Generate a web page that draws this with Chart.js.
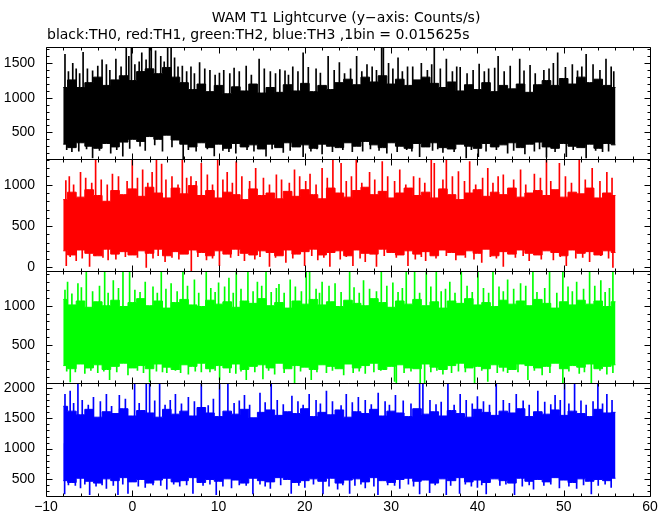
<!DOCTYPE html>
<html>
<head>
<meta charset="utf-8">
<script src="https://cdn.jsdelivr.net/npm/chart.js@4.4.1/dist/chart.umd.min.js"></script>
<style>
  html, body { margin: 0; padding: 0; background: #fff; }
</style>
</head>
<body>
<canvas id="lc" width="672" height="515"></canvas>
<script>
// WAM T1 lightcurve, 4 energy bands stacked
const tStart = -8; // envelope samples every 1 s from -8 to 56
const xTicks = [-10, 0, 10, 20, 30, 40, 50, 60];

// TH0 (black): dense band top/bottom, plus single needles [t, value]
const th0Hi = [1150, 1260, 1150, 1220, 1300, 1180, 1260, 1320, 1250, 1380, 1420, 1350, 1440, 1300, 1220, 1120, 1200,
  1090, 1180, 1060, 1160, 1100, 1200, 1070, 1150, 1080, 1190, 1100, 1210, 1090, 1180, 1120, 1220, 1270, 1190, 1300,
  1230, 1320, 1200, 1270, 1180, 1260, 1300, 1210, 1150, 1230, 1100, 1190, 1120, 1220, 1090, 1180, 1130, 1200, 1080,
  1190, 1250, 1180, 1280, 1200, 1300, 1220, 1270, 1180, 1150];
const th0Lo = [330, 280, 350, 300, 270, 340, 290, 360, 400, 370, 440, 400, 460, 390, 330, 290, 350, 280, 330, 270, 340,
  290, 320, 260, 330, 280, 350, 290, 320, 270, 330, 300, 280, 350, 300, 370, 320, 280, 350, 300, 270, 340, 290, 350,
  280, 260, 330, 300, 270, 340, 290, 320, 350, 280, 330, 360, 290, 270, 340, 300, 280, 330, 270, 340, 320];
const th0Up = [[-7.8, 1630], [-6.5, 1420], [-5.7, 1660], [-4.0, 1460], [-3.0, 1480], [-1.9, 1560], [-0.7, 1736],
  [-0.1, 1736], [0.8, 1520], [2.0, 1736], [2.2, 1736], [3.3, 1600], [4.1, 1736], [4.5, 1736], [5.8, 1460],
  [6.8, 1450], [7.8, 1510], [9.0, 1400], [10.1, 1360], [11.8, 1430], [13.2, 1460], [14.7, 1560], [16.0, 1380],
  [17.1, 1410], [18.6, 1450], [19.8, 1650], [21.3, 1420], [22.7, 1600], [24.0, 1510], [26.0, 1600], [27.2, 1480],
  [28.9, 1736], [29.1, 1736], [30.8, 1580], [31.9, 1450], [33.5, 1500], [35.0, 1736], [36.4, 1560], [38.0, 1440],
  [40.2, 1490], [41.3, 1420], [42.4, 1600], [44.9, 1560], [46.1, 1470], [47.7, 1400], [49.3, 1650], [51.0, 1480],
  [52.6, 1630], [54.9, 1560], [55.5, 1450],
  [-7.4, 1380], [-6.9, 1500], [-6.1, 1350], [-5.2, 1420], [-4.6, 1390], [-3.5, 1550], [-2.6, 1400], [-1.3, 1450],
  [-0.4, 1600], [0.3, 1480], [1.1, 1650], [1.6, 1550], [2.7, 1680], [3.7, 1520], [4.9, 1580], [5.3, 1450],
  [6.3, 1380], [7.2, 1350], [8.4, 1420], [9.6, 1330], [10.6, 1400], [11.3, 1350], [12.4, 1380], [13.8, 1330],
  [15.3, 1420], [16.6, 1350], [17.7, 1390], [18.1, 1330], [19.2, 1380], [20.4, 1440], [21.8, 1360], [23.4, 1400],
  [24.6, 1350], [25.3, 1420], [26.6, 1380], [27.8, 1450], [28.3, 1400], [29.7, 1500], [30.2, 1420], [31.3, 1380],
  [32.5, 1450], [34.2, 1400], [34.7, 1480], [35.7, 1420], [37.1, 1380], [37.6, 1450], [38.8, 1350], [39.5, 1400],
  [40.8, 1380], [42.0, 1430], [43.1, 1380], [43.8, 1460], [45.4, 1390], [46.7, 1350], [48.3, 1420], [48.8, 1500],
  [50.2, 1440], [51.6, 1390], [52.1, 1450], [53.4, 1480], [54.2, 1400], [55.8, 1380]];
const th0Down = [[-7.0, 220], [-4.6, 132], [-2.5, 200], [-1.1, 156], [1.5, 240], [3.5, 230], [5.9, 113], [9.5, 160],
  [12.0, 200], [15.5, 156], [17.5, 210], [19.8, 150], [22.0, 190], [25.5, 220], [29.5, 200], [33.3, 150],
  [36.0, 210], [38.7, 130], [40.1, 150], [43.5, 200], [45.5, 190], [48.0, 140], [50.3, 150], [52.6, 130], [54.5, 220],
  [-7.6, 250], [-6.2, 230], [-5.3, 260], [-3.8, 240], [-1.8, 250], [-0.3, 270], [0.9, 300], [2.6, 320], [4.6, 290],
  [6.5, 250], [7.4, 230], [8.7, 260], [10.5, 240], [11.2, 220], [13.3, 250], [14.1, 230], [16.2, 260], [18.3, 240],
  [20.7, 230], [21.4, 260], [23.2, 220], [24.4, 250], [26.7, 230], [27.6, 260], [28.6, 240], [30.7, 220],
  [31.8, 250], [32.4, 230], [34.8, 240], [35.4, 260], [37.3, 220], [39.3, 250], [41.0, 230], [42.2, 250],
  [44.2, 240], [46.6, 230], [47.2, 260], [49.0, 220], [51.1, 250], [53.7, 240], [55.2, 230]];

// TH1 (red)
const th1Hi = [820, 910, 850, 940, 870, 800, 930, 880, 950, 860, 970, 900, 840, 960, 890, 990, 870, 930, 840, 910,
  880, 820, 950, 870, 900, 830, 920, 860, 940, 880, 830, 960, 900, 850, 930, 970, 880, 920, 840, 900, 960, 870, 910,
  840, 950, 880, 820, 900, 940, 860, 910, 880, 960, 850, 900, 930, 870, 940, 850, 910, 890, 960, 840, 900, 870];
const th1Lo = [200, 150, 210, 170, 140, 220, 160, 190, 150, 200, 170, 220, 140, 190, 160, 210, 180, 140, 200, 160,
  220, 170, 150, 200, 180, 140, 210, 160, 190, 220, 150, 180, 200, 140, 210, 170, 160, 220, 180, 150, 200, 160, 190,
  140, 210, 180, 150, 200, 170, 220, 140, 190, 160, 210, 170, 150, 200, 180, 140, 210, 170, 190, 150, 200, 180];
const th1Up = [[-7.3, 1100], [-6.0, 1150], [-4.25, 1310], [-2.3, 1130], [0.0, 1310], [1.2, 1180], [2.8, 1310],
  [3.4, 1250], [5.8, 1310], [6.8, 1100], [8.0, 1260], [9.9, 1310], [11.0, 1150], [12.05, 1280], [14.3, 1200],
  [16.7, 1120], [18.8, 1180], [20.6, 1130], [22.0, 1200], [23.25, 1310], [24.2, 1260], [25.96, 1310], [27.5, 1150],
  [28.97, 1280], [31.0, 1180], [32.6, 1100], [34.65, 1310], [35.0, 1260], [36.4, 1310], [37.8, 1160], [39.1, 1280],
  [41.2, 1200], [43.0, 1120], [45.0, 1180], [46.6, 1130], [48.0, 1310], [49.5, 1260], [51.8, 1310], [53.3, 1200],
  [55.0, 1150],
  [-7.7, 1050], [-6.8, 1000], [-5.4, 1080], [-4.7, 1020], [-3.6, 1060], [-2.9, 1000], [-1.6, 1100], [-0.6, 1040],
  [0.6, 1080], [1.8, 1020], [2.3, 1150], [3.9, 1060], [4.6, 1100], [5.3, 1000], [6.3, 1080], [7.4, 1040],
  [8.7, 1120], [9.3, 1000], [10.5, 1060], [11.6, 1020], [12.7, 1100], [13.6, 1040], [15.2, 1080], [15.9, 1000],
  [17.3, 1060], [18.2, 1020], [19.4, 1100], [20.1, 1040], [21.3, 1000], [22.6, 1080], [24.8, 1040], [25.4, 1100],
  [26.6, 1020], [28.1, 1060], [29.6, 1100], [30.4, 1040], [31.7, 1000], [33.3, 1080], [33.9, 1020], [36.0, 1060],
  [37.1, 1100], [38.5, 1040], [39.8, 1000], [40.6, 1080], [41.8, 1020], [42.4, 1100], [44.2, 1060], [45.6, 1000],
  [47.3, 1080], [48.5, 1040], [50.2, 1100], [50.9, 1020], [52.5, 1060], [54.2, 1040], [55.6, 1080]];
const th1Down = [[-7.65, 20], [-6.5, 80], [-4.95, 10], [-2.8, 90], [1.62, 0], [3.8, 70], [6.84, -40], [8.6, 90],
  [10.1, 20], [13.0, 80], [15.9, 10], [17.8, 60], [19.97, 20], [21.5, 90], [22.9, 10], [25.57, 20], [27.0, 70],
  [28.3, 10], [31.95, 20], [34.0, 80], [37.5, 90], [40.5, 60], [43.0, 10], [46.0, 80], [48.8, 90], [50.3, 20],
  [53.0, 70], [55.7, 0],
  [-7.2, 130], [-5.8, 110], [-4.3, 140], [-3.4, 120], [-1.9, 100], [-0.8, 130], [0.6, 120], [2.4, 110], [3.0, 140],
  [4.6, 120], [5.4, 100], [7.6, 130], [9.3, 110], [11.4, 120], [12.3, 140], [14.2, 100], [14.8, 130], [16.6, 120],
  [18.6, 110], [20.8, 140], [22.2, 120], [24.1, 100], [24.8, 130], [26.4, 110], [29.2, 140], [30.6, 120],
  [32.8, 100], [33.5, 130], [35.2, 110], [36.4, 140], [38.6, 120], [39.6, 100], [41.5, 130], [42.2, 110],
  [44.4, 120], [45.3, 140], [47.4, 100], [49.6, 130], [51.4, 110], [52.2, 120], [54.3, 140], [55.2, 110]];

// TH2 (green)
const th2Hi = [1080, 1010, 1060, 980, 1050, 1000, 1070, 990, 1040, 1090, 1000, 1060, 970, 1040, 1080, 1010, 990,
  1070, 1020, 1050, 980, 1060, 1030, 1090, 1000, 1040, 970, 1060, 1020, 1080, 1010, 1050, 990, 1070, 1030, 1000,
  1090, 1040, 980, 1060, 1020, 1080, 1000, 1050, 970, 1060, 1030, 1090, 1010, 1040, 990, 1070, 1020, 1060, 1000,
  1080, 1030, 970, 1050, 1010, 1070, 1020, 1060, 990, 1050];
const th2Lo = [240, 200, 260, 210, 250, 190, 230, 270, 210, 240, 200, 260, 220, 190, 250, 230, 270, 200, 240, 210,
  260, 190, 230, 250, 210, 270, 200, 240, 220, 190, 250, 230, 200, 260, 210, 240, 270, 190, 230, 250, 210, 200, 260,
  220, 190, 240, 270, 210, 230, 200, 250, 220, 190, 260, 240, 210, 230, 270, 200, 240, 220, 260, 200, 230, 250];
const th2Up = [[-7.5, 1300], [-6.3, 1280], [-5.33, 1437], [-3.2, 1437], [-2.2, 1320], [-1.08, 1437], [-0.31, 1437],
  [1.5, 1300], [3.36, 1437], [4.5, 1280], [5.87, 1437], [7.2, 1330], [8.57, 1437], [10.0, 1290], [11.2, 1350],
  [12.05, 1437], [13.4, 1437], [14.5, 1300], [15.5, 1437], [17.0, 1270], [18.3, 1330], [20.16, 1437], [20.55, 1437],
  [22.0, 1300], [23.5, 1280], [25.19, 1437], [26.8, 1320], [28.86, 1437], [30.2, 1290], [31.75, 1437], [32.72, 1437],
  [34.07, 1437], [35.23, 1437], [36.8, 1300], [38.13, 1437], [40.06, 1437], [41.8, 1437], [43.5, 1330], [45.0, 1280],
  [46.43, 1437], [48.36, 1437], [49.9, 1437], [51.5, 1300], [53.0, 1437], [54.3, 1320], [55.7, 1437],
  [-7.8, 1200], [-7.0, 1150], [-5.9, 1230], [-4.6, 1180], [-3.8, 1250], [-2.8, 1160], [-1.6, 1220], [0.3, 1200],
  [0.9, 1170], [2.4, 1240], [2.9, 1160], [3.9, 1210], [5.2, 1180], [6.4, 1250], [7.7, 1160], [9.1, 1220],
  [9.6, 1170], [10.7, 1240], [11.7, 1160], [12.6, 1210], [14.0, 1180], [15.0, 1250], [16.1, 1170], [16.7, 1220],
  [17.6, 1160], [18.9, 1240], [19.6, 1180], [21.3, 1210], [21.7, 1160], [22.8, 1250], [24.2, 1170], [25.7, 1230],
  [26.3, 1160], [27.5, 1210], [28.3, 1180], [29.5, 1250], [30.8, 1170], [31.3, 1220], [33.3, 1160], [34.6, 1240],
  [35.8, 1180], [36.3, 1210], [37.4, 1160], [38.8, 1250], [39.4, 1170], [40.7, 1220], [41.3, 1160], [42.5, 1240],
  [43.0, 1180], [44.2, 1210], [45.6, 1250], [46.9, 1170], [47.8, 1220], [49.2, 1160], [50.5, 1240], [51.0, 1180],
  [52.3, 1210], [53.6, 1250], [54.8, 1170], [55.3, 1220]];
const th2Down = [[-7.19, 33], [-5.5, 140], [-2.63, 60], [-0.5, 120], [2.01, 33], [4.0, 150], [6.5, 130], [8.0, 160],
  [10.12, 60], [12.0, 140], [13.21, 60], [15.14, 70], [16.5, 130], [18.81, 13], [20.74, 60], [22.5, 150],
  [24.5, 120], [27.0, 140], [30.4, 40], [30.6, 13], [33.37, 13], [33.88, 20], [36.0, 130], [39.67, 13], [41.2, 40],
  [43.5, 150], [45.85, 60], [47.5, 120], [49.9, 13], [51.8, 140], [53.2, 20], [55.0, 130],
  [-7.6, 170], [-6.6, 160], [-4.8, 180], [-4.0, 150], [-3.3, 170], [-1.8, 160], [0.6, 180], [1.3, 150], [2.8, 170],
  [3.5, 160], [5.0, 180], [5.6, 150], [7.3, 170], [9.0, 160], [9.6, 180], [11.3, 150], [12.6, 170], [14.2, 160],
  [15.8, 180], [17.6, 150], [19.5, 170], [21.4, 160], [23.2, 180], [25.6, 150], [26.3, 170], [28.0, 160],
  [28.8, 180], [31.5, 150], [32.3, 170], [34.6, 160], [35.3, 180], [37.0, 150], [37.8, 170], [38.6, 160],
  [40.5, 180], [42.3, 150], [43.0, 170], [44.7, 160], [46.6, 180], [48.4, 150], [50.6, 170], [52.4, 160],
  [54.2, 180], [55.7, 150]];

// TH3 (blue)
const th3Hi = [1700, 1620, 1560, 1650, 1520, 1610, 1580, 1660, 1540, 1630, 1590, 1520, 1650, 1570, 1620, 1540, 1680,
  1590, 1530, 1620, 1570, 1650, 1510, 1600, 1640, 1550, 1610, 1580, 1660, 1530, 1600, 1560, 1640, 1520, 1610, 1580,
  1650, 1540, 1620, 1590, 1530, 1660, 1570, 1610, 1540, 1630, 1580, 1520, 1650, 1600, 1550, 1620, 1590, 1660, 1530,
  1610, 1570, 1640, 1550, 1620, 1580, 1530, 1650, 1590, 1600];
const th3Lo = [470, 440, 510, 460, 430, 500, 470, 520, 450, 490, 430, 480, 510, 450, 470, 520, 440, 490, 460, 500,
  480, 430, 510, 470, 450, 520, 490, 440, 470, 500, 460, 510, 430, 480, 500, 450, 520, 470, 440, 490, 510, 460, 480,
  430, 500, 470, 520, 450, 480, 440, 500, 470, 430, 510, 460, 490, 450, 520, 480, 440, 500, 460, 490, 470, 510];
const th3Up = [[-7.8, 1900], [-7.2, 1950], [-6.3, 2078], [-4.5, 1850], [-3.0, 1900], [-1.5, 1880], [0.27, 2078],
  [1.62, 2078], [2.01, 2078], [3.17, 2078], [5.0, 1900], [6.5, 1850], [8.0, 2078], [10.12, 2078], [11.08, 2078],
  [13.0, 1880], [14.8, 1920], [16.1, 2078], [18.5, 1870], [20.5, 1900], [22.5, 1950], [24.8, 1900], [26.2, 1850],
  [28.5, 1920], [30.5, 1880], [33.3, 2078], [33.68, 2078], [36.58, 2078], [38.0, 1900], [40.0, 1860], [42.18, 2078],
  [44.5, 1900], [47.0, 1950], [49.0, 1880], [50.1, 2078], [51.26, 2078], [53.96, 2078], [55.0, 1900],
  [-6.8, 1750], [-5.8, 1800], [-5.1, 1720], [-3.7, 1780], [-2.4, 1700], [-0.8, 1820], [0.8, 1750], [2.6, 1790],
  [3.8, 1720], [4.4, 1800], [5.7, 1740], [7.2, 1780], [8.8, 1710], [9.4, 1820], [11.8, 1750], [12.4, 1790],
  [13.6, 1720], [15.4, 1760], [16.8, 1800], [17.5, 1730], [19.2, 1780], [19.8, 1720], [21.3, 1800], [21.8, 1740],
  [23.2, 1780], [24.2, 1710], [25.5, 1760], [27.0, 1800], [27.7, 1730], [29.3, 1780], [29.8, 1720], [31.4, 1790],
  [32.3, 1740], [34.5, 1800], [35.2, 1730], [35.8, 1770], [37.3, 1720], [38.7, 1800], [39.4, 1740], [40.7, 1780],
  [41.4, 1720], [43.0, 1800], [43.7, 1750], [45.3, 1790], [46.0, 1720], [47.8, 1770], [48.5, 1730], [49.6, 1800],
  [50.6, 1740], [52.0, 1790], [52.6, 1720], [53.4, 1780], [54.5, 1740], [55.6, 1800]];
const th3Down = [[-7.84, 250], [-6.0, 350], [-4.94, 240], [-3.0, 340], [-1.66, 240], [-0.5, 260], [1.5, 360],
  [4.0, 330], [7.03, 260], [9.73, 240], [11.5, 350], [13.98, 250], [16.0, 340], [18.42, 260], [20.0, 360],
  [22.1, 250], [23.8, 330], [25.19, 260], [27.0, 350], [28.47, 240], [31.0, 340], [33.3, 250], [34.46, 270],
  [36.39, 240], [37.93, 260], [40.0, 360], [41.02, 250], [44.3, 240], [46.5, 330], [49.5, 350], [51.5, 340],
  [53.2, 250], [55.5, 360],
  [-7.4, 400], [-6.6, 390], [-5.5, 410], [-4.2, 380], [-3.5, 400], [-2.2, 390], [-1.1, 410], [0.7, 380], [2.4, 400],
  [3.3, 390], [4.8, 410], [5.5, 380], [6.3, 400], [8.2, 390], [9.0, 410], [10.5, 380], [12.4, 400], [13.2, 390],
  [14.8, 410], [15.4, 380], [17.2, 400], [19.3, 390], [21.0, 410], [22.8, 380], [24.4, 400], [25.8, 390],
  [26.5, 410], [28.0, 380], [29.6, 400], [30.4, 390], [32.0, 410], [32.6, 380], [35.1, 400], [36.9, 390],
  [38.6, 410], [39.3, 380], [40.5, 400], [42.6, 390], [43.3, 410], [45.2, 380], [46.0, 400], [47.7, 390],
  [48.5, 410], [50.6, 380], [52.3, 400], [54.0, 390], [54.8, 410]];

// top to bottom
const panels = [
  { id: 'y0', color: '#000000', hi: th0Hi, lo: th0Lo, up: th0Up, down: th0Down, min: 113, max: 1736, ticks: [500, 1000, 1500] },
  { id: 'y1', color: '#ff0000', hi: th1Hi, lo: th1Lo, up: th1Up, down: th1Down, min: -48, max: 1310, ticks: [0, 500, 1000] },
  { id: 'y2', color: '#00ff00', hi: th2Hi, lo: th2Lo, up: th2Up, down: th2Down, min: 13, max: 1437, ticks: [500, 1000] },
  { id: 'y3', color: '#0000ff', hi: th3Hi, lo: th3Lo, up: th3Up, down: th3Down, min: 223, max: 2078, ticks: [500, 1000, 1500, 2000] },
];

const font = { family: "'Liberation Sans', Arial, sans-serif", size: 14 };
const fmt = v => (v < 0 ? '\u2212' + Math.abs(v) : String(v));

const datasets = [];
panels.forEach(p => {
  const mid = t => {
    const k = Math.max(0, Math.min(p.hi.length - 1, Math.round(t - tStart)));
    return (p.hi[k] + p.lo[k]) / 2;
  };
  datasets.push({
    type: 'line', yAxisID: p.id, data: p.hi.map((v, k) => ({ x: tStart + k, y: v })),
    borderColor: p.color, borderWidth: 1, pointRadius: 0, stepped: 'middle', fill: false
  });
  datasets.push({
    type: 'line', yAxisID: p.id, data: p.lo.map((v, k) => ({ x: tStart + k, y: v })),
    borderColor: p.color, backgroundColor: p.color, borderWidth: 1, pointRadius: 0, stepped: 'middle', fill: '-1'
  });
  datasets.push({
    type: 'bar', yAxisID: p.id, grouped: false, barThickness: 1, backgroundColor: p.color,
    data: p.up.concat(p.down).map(([t, v]) => ({ x: t, y: [mid(t), v] }))
  });
});

const scales = {
  x: {
    type: 'linear', position: 'bottom', min: -10, max: 60, offset: false,
    afterBuildTicks: s => { s.ticks = xTicks.map(v => ({ value: v })); },
    afterFit: s => { s.height = 19; },
    ticks: { font, color: '#000', padding: 3, maxRotation: 0, autoSkip: false, callback: v => fmt(v) },
    grid: { display: false, drawTicks: false }, border: { display: false }
  }
};
// stacked axes are laid out bottom-up, so add the lowest panel first
panels.slice().reverse().forEach(p => {
  scales[p.id] = {
    type: 'linear', position: 'left', stack: 'lc', stackWeight: 1, min: p.min, max: p.max, offset: false,
    afterBuildTicks: s => { s.ticks = p.ticks.map(v => ({ value: v })); },
    afterFit: s => { s.width = 46; },
    ticks: { font, color: '#000', padding: 11, autoSkip: false, callback: v => fmt(v) },
    grid: { display: false, drawTicks: false }, border: { display: false }
  };
});

// PGPLOT-like frame: box around each panel, ticks pointing inwards on all sides
const framePlugin = {
  id: 'frame',
  afterDatasetsDraw(chart) {
    const ctx = chart.ctx, xs = chart.scales.x;
    const L = Math.round(xs.left) + 0.5, R = Math.round(xs.right) + 0.5;
    ctx.save();
    ctx.strokeStyle = '#000';
    ctx.lineWidth = 1;
    ctx.beginPath();
    panels.forEach(p => {
      const s = chart.scales[p.id];
      const T = Math.round(s.top) + 0.5, B = Math.round(s.bottom) + 0.5;
      ctx.rect(L, T, R - L, B - T);
      for (let v = Math.ceil(s.min / 100) * 100; v <= s.max; v += 100) {
        const y = Math.round(s.getPixelForValue(v)) + 0.5;
        const len = v % 500 === 0 ? 6 : 3;
        ctx.moveTo(L, y); ctx.lineTo(L + len, y);
        ctx.moveTo(R, y); ctx.lineTo(R - len, y);
      }
      for (let v = -10; v <= 60; v += 2) {
        const x = Math.round(xs.getPixelForValue(v)) + 0.5;
        const len = v % 10 === 0 ? 6 : 3;
        ctx.moveTo(x, T); ctx.lineTo(x, T + len);
        ctx.moveTo(x, B); ctx.lineTo(x, B - len);
      }
    });
    ctx.stroke();

    ctx.fillStyle = '#000';
    ctx.font = "14px 'DejaVu Sans', sans-serif";
    ctx.textBaseline = 'alphabetic';
    ctx.textAlign = 'center';
    ctx.fillText('WAM T1 Lightcurve (y\u2212axis: Counts/s)', 346, 22);
    ctx.textAlign = 'left';
    ctx.fillText('black:TH0, red:TH1, green:TH2, blue:TH3 ,1bin = 0.015625s', 47, 39);
    ctx.restore();
  }
};

new Chart(document.getElementById('lc'), {
  type: 'line',
  data: { datasets },
  options: {
    responsive: false,
    animation: false,
    devicePixelRatio: 1,
    layout: { padding: { top: 47, right: 22, bottom: 0, left: 0 } },
    scales,
    plugins: { legend: { display: false }, tooltip: { enabled: false }, title: { display: false } }
  },
  plugins: [framePlugin]
});
</script>
</body>
</html>
